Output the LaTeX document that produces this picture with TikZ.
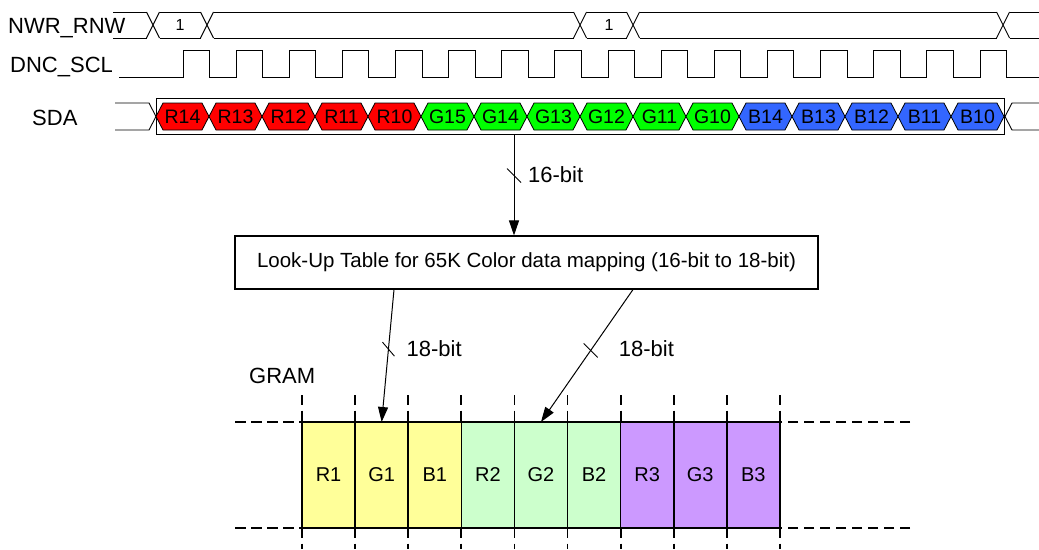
\documentclass[tikz,border=0pt]{standalone}
\usepackage{fontspec}
\setmainfont{Liberation Sans}
\usepackage{tikz}
\usetikzlibrary{arrows.meta,positioning,calc}
\definecolor{hexred}{RGB}{255,0,0}
\definecolor{hexgrn}{RGB}{0,255,0}
\definecolor{hexblu}{RGB}{51,102,255}
\definecolor{gyel}{RGB}{255,255,153}
\definecolor{ggrn}{RGB}{204,255,204}
\definecolor{gpur}{RGB}{204,153,255}
\tikzset{
  sig/.style={line width=0.9pt},
  lbl/.style={font=\fontsize{22}{24}\selectfont,inner sep=0pt,anchor=base west},
  hexcell/.style={draw,line width=0.8pt},
  celltxt/.style={font=\fontsize{19.5}{22}\selectfont,inner sep=0pt},
  gcell/.style={draw,line width=1.6pt,minimum width=53.1pt,minimum height=106pt,inner sep=0pt,outer sep=0pt,font=\fontsize{20}{22}\selectfont},
  gdash/.style={line width=1.8pt,dash pattern=on 10.5pt off 5.5pt},
  bus/.style={line width=1pt,-{Triangle[length=15pt,width=10pt]}},
  tick/.style={line width=0.9pt},
}

\begin{document}
\begin{tikzpicture}[x=1pt,y=-1pt]
  \useasboundingbox (0,0) rectangle (1039,549);
  \node[lbl] (nwr) at (8,33) {NWR\_RNW};
  \node[lbl] (dnc) at (10,72) {DNC\_SCL};
  \node[lbl] (sdal) at (32,125) {SDA};

  \foreach \a/\b in {113/146.5,159.5/200.5,213.5/573.5,586.5/626.5,639.5/996.5,1009.5/1039}
    \draw[sig] (\a,12) -- (\b,12) (\a,38) -- (\b,38);
  \foreach \c in {153,207,580,633,1003}
    \draw[sig] (\c-6.5,12) -- (\c+6.5,38) (\c-6.5,38) -- (\c+6.5,12);
  \node[celltxt,font=\fontsize{16}{18}\selectfont] (w1) at (180,25) {1};
  \node[celltxt,font=\fontsize{16}{18}\selectfont] (w2) at (609,25) {1};

  \draw[sig] (119,77) foreach \i in {0,...,15} { -- ({183+53.13*\i},77) -- ++(0,-27) -- ++(26.5,0) -- ++(0,27) } -- (1039,77);

  \draw[sig] (115,103) -- (149,103) -- (156,116.5) -- (149,130) -- (115,130);
  \draw[sig] (1039,103) -- (1012,103) -- (1005,116.5) -- (1012,130) -- (1039,130);
  \node[draw,line width=0.8pt,minimum width=848pt,minimum height=36pt,inner sep=0pt,outer sep=0pt] (sda) at (580,116) {};
  \foreach \t/\c [count=\i from 0] in {R14/hexred,R13/hexred,R12/hexred,R11/hexred,R10/hexred,
      G15/hexgrn,G14/hexgrn,G13/hexgrn,G12/hexgrn,G11/hexgrn,G10/hexgrn,
      B14/hexblu,B13/hexblu,B12/hexblu,B11/hexblu,B10/hexblu} {
    \filldraw[hexcell,fill=\c] ({156+53*\i},116.5) -- ++(7,-13.5) -- ++(39,0) -- ++(7,13.5) -- ++(-7,13.5) -- ++(-39,0) -- cycle;
    \node[celltxt] (s\i) at ({182.5+53*\i},116.5) {\t};
  }

  \node[draw,line width=1.1pt,minimum width=583pt,minimum height=53pt,font=\fontsize{20.5}{22}\selectfont] (lut) at (526.5,262.5) {Look-Up Table for 65K Color data mapping (16-bit to 18-bit)};

  \draw[bus] ([xshift=-66pt]sda.south) -- coordinate[pos=0.41](k0) ([xshift=-12.5pt]lut.north);
  \draw[tick] ($(k0)+(-7,-7)$) -- ($(k0)+(7,7)$);
  \node[lbl] (b16) at ($(k0)+(14,7)$) {16-bit};

  \node[lbl] (gram) at (249,383) {GRAM};
  \node[gcell,fill=gyel] (r1) at (328.55,475) {R1};
  \node[gcell,fill=gyel,right=0pt of r1] (g1) {G1};
  \node[gcell,fill=gyel,right=0pt of g1] (b1) {B1};
  \node[gcell,fill=ggrn,right=0pt of b1] (r2) {R2};
  \node[gcell,fill=ggrn,right=0pt of r2] (g2) {G2};
  \node[gcell,fill=ggrn,right=0pt of g2] (b2) {B2};
  \node[gcell,fill=gpur,right=0pt of b2] (r3) {R3};
  \node[gcell,fill=gpur,right=0pt of r3] (g3) {G3};
  \node[gcell,fill=gpur,right=0pt of g3] (b3) {B3};

  \foreach \n in {r1,g1,b1,r2,g2,b2,r3,g3,b3} {
    \draw[gdash,dash pattern=on 10pt off 5.5pt] ([yshift=27pt]\n.north west) -- (\n.north west);
    \draw[gdash,dash pattern=on 10pt off 5.5pt] (\n.south west) -- ([yshift=-21pt]\n.south west);
  }
  \draw[gdash,dash pattern=on 10pt off 5.5pt] ([yshift=27pt]b3.north east) -- (b3.north east);
  \draw[gdash,dash pattern=on 10pt off 5.5pt] (b3.south east) -- ([yshift=-21pt]b3.south east);
  \draw[gdash] (235,422) -- (r1.north west);
  \draw[gdash] (235,528) -- (r1.south west);
  \draw[gdash] (910,422) -- (b3.north east);
  \draw[gdash] (910,528) -- (b3.south east);

  \draw[bus] ([xshift=-132.5pt]lut.south) -- coordinate[pos=0.45](k1) (g1.north);
  \draw[tick] ($(k1)+(-6,-7)$) -- ($(k1)+(6,7)$);
  \node[lbl] (b18a) at ($(k1)+(18,7)$) {18-bit};
  \draw[bus] ([xshift=106.5pt]lut.south) -- coordinate[pos=0.46](k2) (g2.north);
  \draw[tick] ($(k2)+(-7,-7)$) -- ($(k2)+(7,7)$);
  \node[lbl] (b18b) at ($(k2)+(28,6)$) {18-bit};
\end{tikzpicture}
\end{document}
